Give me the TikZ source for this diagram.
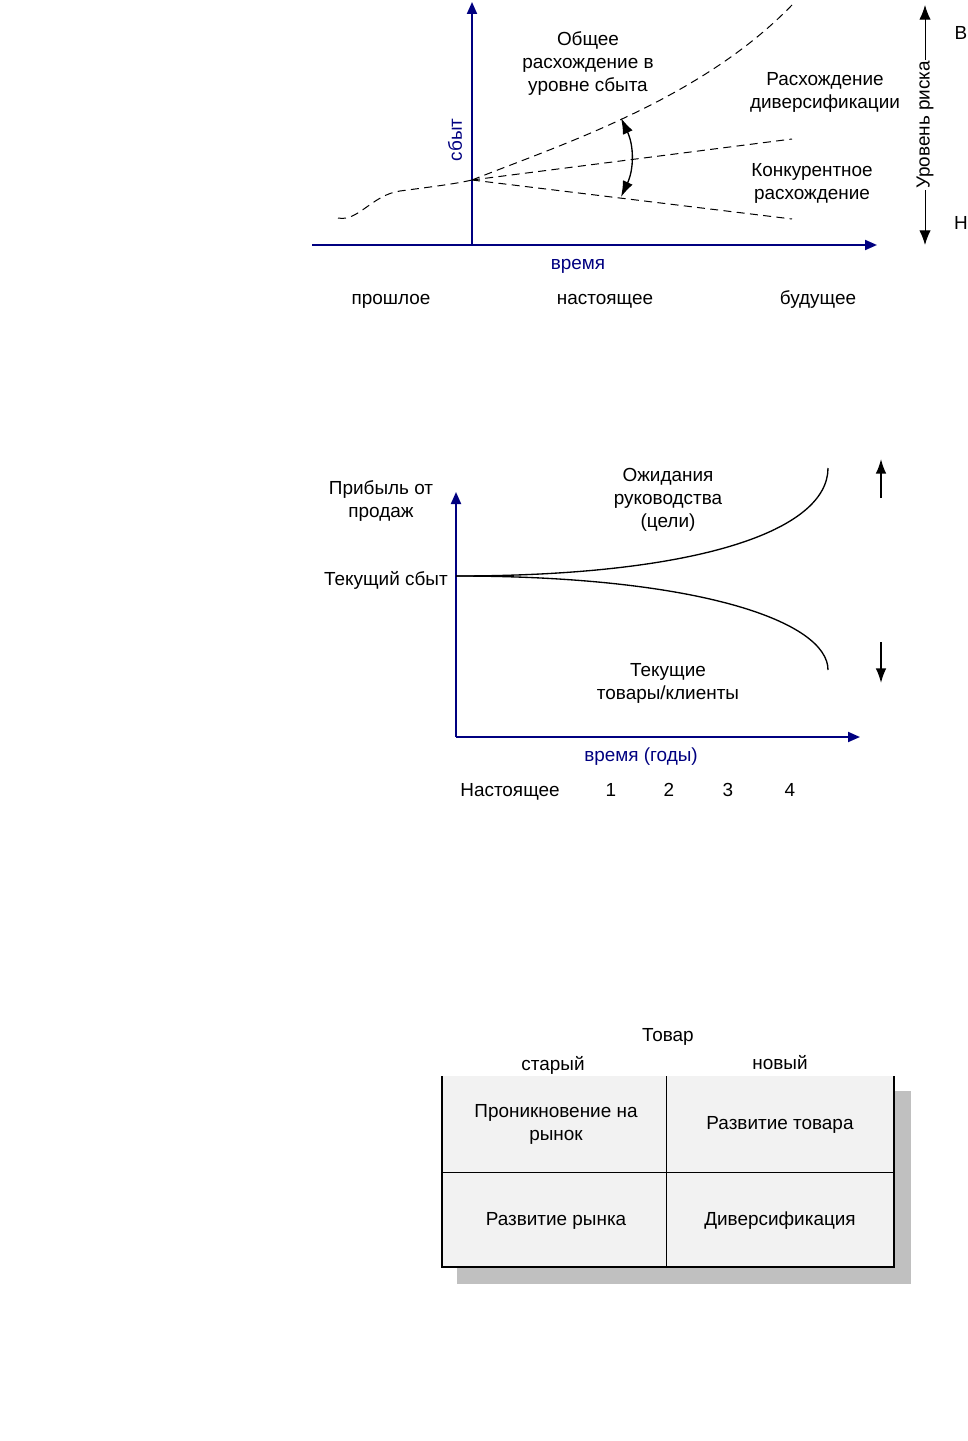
\documentclass[tikz,border=0pt]{standalone}
\usepackage{fontspec}
\setmainfont{Liberation Sans}
\usetikzlibrary{arrows.meta}
\definecolor{axisblue}{RGB}{0,0,128}
\definecolor{cellgray}{RGB}{242,242,242}
\definecolor{shadowgray}{RGB}{192,192,192}
\newcommand{\labelsize}{\fontsize{14.2}{17.25}\selectfont}
\tikzset{
  axis/.style={draw=axisblue, line width=1.5pt, -{Triangle[length=9pt,width=7.5pt]}},
  trend/.style={dashed, dash pattern=on 6pt off 4pt, line width=0.75pt},
  txt/.style={font=\labelsize, align=center, inner sep=0pt, yshift=-2.2pt},
  bluetxt/.style={txt, text=axisblue},
  vtxt/.style={font=\labelsize, align=center, inner sep=0pt, rotate=90},
  tip/.style={line width=1.2pt, -{Latex[length=11pt,width=8pt]}},
  risktip/.style={line width=0.75pt, {Latex[length=11pt,width=8.5pt]}-{Latex[length=11pt,width=8.5pt]}},
  gaptip/.style={line width=1pt, {Latex[length=12pt,width=8pt]}-{Latex[length=12pt,width=8pt]}},
}
\begin{document}
\begin{tikzpicture}[x=0.75pt,y=-0.75pt]
\useasboundingbox (0,0) rectangle (967,1441);

% --- top picture: sales gap
\coordinate (o1) at (472,245);
\draw[axis] (312,245) -- (877,245);
\draw[axis] (o1) -- (472,2);
\node[vtxt, text=axisblue] (sbyt) at (455,140) {сбыт};
\node[bluetxt] (vremya) at (578,263) {время};
\node[txt] (past) at (391,298) {прошлое};
\node[txt] (now) at (605,298) {настоящее};
\node[txt] (future) at (818,297) {будущее};

\coordinate (start) at (472,180);
\draw[trend] (338,218) .. controls (358,222) and (372,195) .. (400,191)
   .. controls (430,187) and (455,184) .. (start);
\draw[trend] (start) .. controls (560,145) and (700,100) .. (792,5);
\draw[trend] (start) -- (792,139);
\draw[trend] (start) -- (792,219);

\coordinate (gtop) at (621,118);
\coordinate (gbot) at (621,197);
\draw[gaptip] (gtop) to[bend left=25] (gbot);

\node[txt] (total) at (588,61) {Общее\\расхождение в\\уровне сбыта};
\node[txt] (divers) at (825,90) {Расхождение\\диверсификации};
\node[txt] (konk) at (812,181) {Конкурентное\\расхождение};

\coordinate (rtop) at (925,5);
\coordinate (rbot) at (925,245);
\draw[risktip] (rtop) -- (rbot);
\node[vtxt, fill=white, inner sep=1pt] (risk) at (925,125) {Уровень риска};
\node[txt] (high) at (961,30) {В};
\node[txt] (low) at (961,220) {Н};

% --- middle picture: planning gap
\coordinate (o2) at (456,737);
\draw[axis] (o2) -- (860,737);
\draw[axis] (o2) -- (456,492);
\coordinate (cur) at (456,576);
\draw[line width=1pt] (cur) .. controls (700,576) and (828,530) .. (828,468);
\draw[line width=1pt] (cur) .. controls (700,576) and (828,622) .. (828,670);
\draw[tip] (881,498) -- (881,459);
\draw[tip] (881,642) -- (881,683);

\node[txt] (profit) at (381,498) {Прибыль от\\продаж};
\node[txt, anchor=east] (cursales) at (448,577) {Текущий сбыт};
\node[txt] (goals) at (668,497) {Ожидания\\руководства\\(цели)};
\node[txt] (products) at (668,681) {Текущие\\товары/клиенты};
\node[bluetxt] (years) at (641,754) {время (годы)};
\node[txt] (y0) at (510,789) {Настоящее};
\foreach \n/\x in {1/611, 2/669, 3/728, 4/790}
  \node[txt] (y\n) at (\x,787) {\n};

% --- bottom picture: product / market matrix
\fill[shadowgray] (457,1091) rectangle (911,1284);
\fill[cellgray] (442,1076) rectangle (894,1267);
\draw[line width=0.75pt] (666,1076) -- (666,1267);
\draw[line width=0.75pt] (442,1172) -- (894,1172);
\draw[line width=1.5pt] (442,1076) -- (442,1267) -- (894,1267) -- (894,1076);

\node[txt] (tovar) at (668,1034) {Товар};
\node[txt] (old) at (553,1062) {старый};
\node[txt] (new) at (780,1060) {новый};
\node[txt] (pen) at (556,1122) {Проникновение на\\рынок};
\node[txt] (proddev) at (780,1122) {Развитие товара};
\node[txt] (mardev) at (556,1218) {Развитие рынка};
\node[txt] (div) at (780,1218) {Диверсификация};
\end{tikzpicture}
\end{document}
